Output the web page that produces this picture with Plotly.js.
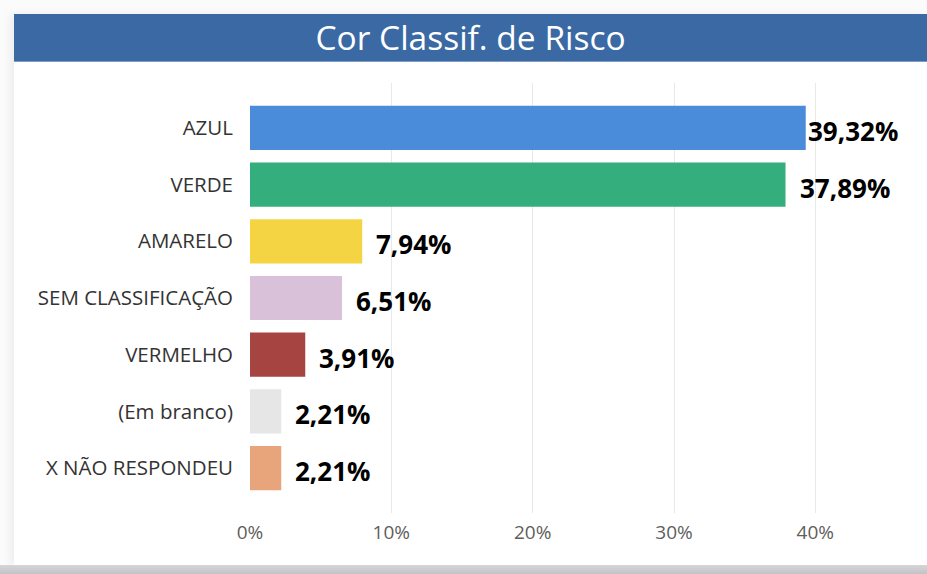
<!DOCTYPE html>
<html>
<head>
<meta charset="utf-8">
<script src="https://cdn.plot.ly/plotly-3.0.1.min.js"></script>
<style>
  html, body { margin: 0; padding: 0; width: 927px; height: 574px; overflow: hidden; background: #fbfbfb; }
  #panel { position: absolute; left: 14px; top: 14px; width: 913px; height: 551px; background: #ffffff;
           box-shadow: -4px 0 8px rgba(0,0,0,0.06); }
  #bar { position: absolute; left: 14px; top: 14px; width: 913px; height: 47px; background: #3a69a3;
         border-bottom: 1px solid #7d9cc4; }
  #bottom { position: absolute; left: 0; top: 565px; width: 927px; height: 9px;
            background: linear-gradient(#d6d6d9, #c2c3c7); }
  #chart { position: absolute; left: 0; top: 0; width: 927px; height: 574px; }
</style>
</head>
<body>
<div id="panel"></div>
<div id="bar"></div>
<div id="bottom"></div>
<div id="chart"></div>
<script>
const categories = ["AZUL", "VERDE", "AMARELO", "SEM CLASSIFICAÇÃO", "VERMELHO", "(Em branco)", "X NÃO RESPONDEU"];
const values = [39.32, 37.89, 7.94, 6.51, 3.91, 2.21, 2.21];
const colors = ["#4a8bda", "#35ae7e", "#f5d443", "#d9c1da", "#a64442", "#e6e6e6", "#e8a57c"];
const tickValues = [0, 10, 20, 30, 40];
const tickLabels = ["0%", "10%", "20%", "30%", "40%"];

const fmt = v => v.toFixed(2).replace('.', ',') + '%';

const trace = {
  type: 'bar',
  orientation: 'h',
  x: values,
  y: categories,
  marker: { color: colors },
  hoverinfo: 'none'
};

const annotations = values.map((v, i) => ({
  x: v, y: categories[i], xref: 'x', yref: 'y',
  text: fmt(v), showarrow: false, xanchor: 'left', yanchor: 'middle',
  xshift: v > 39 ? 0 : 12, yshift: -3,
  font: { family: 'Open Sans, sans-serif', size: 26, color: '#000000', weight: 700 }
}));

const layout = {
  width: 927, height: 574,
  margin: { l: 250, r: 0, t: 83, b: 61, pad: 0 },
  paper_bgcolor: 'rgba(0,0,0,0)',
  plot_bgcolor: 'rgba(0,0,0,0)',
  showlegend: false,
  bargap: 0.22,
  title: {
    text: 'Cor Classif. de Risco',
    xref: 'container', yref: 'container', x: 0.5076, y: 0.934,
    xanchor: 'center', yanchor: 'middle',
    font: { family: 'Open Sans, sans-serif', size: 33.5, color: '#ffffff' }
  },
  xaxis: {
    range: [0, 47.9],
    tickmode: 'array',
    tickvals: tickValues,
    ticktext: tickLabels,
    showgrid: true, gridcolor: '#e8e8e8', gridwidth: 1,
    zeroline: false, showline: false, ticks: '',
    ticklabelstandoff: 6,
    tickfont: { family: 'Open Sans, sans-serif', size: 19, color: '#605e5c' }
  },
  yaxis: {
    type: 'category',
    categoryorder: 'array', categoryarray: categories,
    range: [6.79, -0.79],
    showgrid: false, zeroline: false, showline: false, ticks: '',
    ticklabelstandoff: 16,
    tickfont: { family: 'Open Sans, sans-serif', size: 20.5, color: '#333333' }
  },
  annotations: annotations
};

Plotly.newPlot('chart', [trace], layout, { staticPlot: true, displayModeBar: false });
</script>
</body>
</html>
